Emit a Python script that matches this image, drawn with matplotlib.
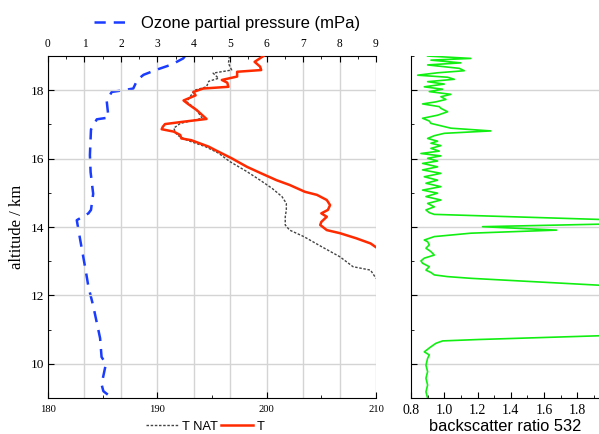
import matplotlib
matplotlib.use('Agg')
import matplotlib.pyplot as plt
from matplotlib.ticker import MultipleLocator

# ozone partial pressure profile (mPa) vs altitude (km)
oz_alt = [19.0, 18.93, 18.75, 18.6, 18.45, 18.3, 18.05, 18.0, 17.95, 17.7, 17.2, 17.15,
          16.85, 16.1, 15.6, 14.97, 14.5, 14.4, 14.2, 13.65, 12.7, 12.25, 11.7, 10.75,
          10.2, 10.0, 9.4, 9.2, 9.05]
oz_val = [3.76, 3.71, 3.39, 2.98, 2.62, 2.45, 2.34, 2.07, 1.75, 1.61, 1.66, 1.34,
          1.18, 1.15, 1.17, 1.24, 1.18, 1.11, 0.79, 0.88, 1.04, 1.11, 1.24, 1.43,
          1.47, 1.59, 1.47, 1.52, 1.70]

# temperature (K)
t_alt = [19.0, 18.83, 18.69, 18.59, 18.54, 18.4, 18.3, 18.22, 18.1, 18.05, 17.95, 17.85,
         17.7, 17.6, 17.42, 17.16, 17.08, 17.01, 16.93, 16.86, 16.79, 16.69, 16.59, 16.54,
         16.35, 16.25, 16.01, 15.76, 15.57, 15.37, 15.23, 15.03, 14.94, 14.79, 14.64, 14.5,
         14.4, 14.3, 14.15, 14.06, 13.91, 13.82, 13.67, 13.52, 13.41]
t_val = [199.7, 198.9, 199.4, 199.5, 197.3, 197.3, 195.9, 196.4, 196.5, 194.2, 193.3, 193.5,
         192.4, 192.8, 193.6, 194.5, 192.4, 190.7, 190.5, 190.4, 191.5, 192.1, 192.2, 193.1,
         194.7, 195.3, 196.8, 198.2, 199.5, 200.9, 202.1, 203.5, 204.6, 205.5, 205.8, 205.6,
         205.0, 205.5, 205.0, 204.9, 205.5, 206.7, 208.2, 209.5, 210.0]

# NAT existence temperature (K)
tnat_alt = [19.0, 18.79, 18.59, 18.5, 18.35, 18.26, 18.1, 18.0, 17.81, 17.66, 17.42, 17.18,
            17.03, 16.89, 16.69, 16.54, 16.35, 16.16, 15.92, 15.62, 15.37, 15.13, 14.89,
            14.69, 14.5, 14.3, 14.06, 13.91, 13.72, 13.43, 13.13, 12.84, 12.74, 12.5]
tnat_val = [196.6, 196.5, 196.8, 195.1, 195.6, 194.7, 194.5, 193.4, 193.0, 192.7, 193.6, 194.1,
            192.1, 191.5, 191.8, 192.7, 194.4, 195.6, 196.6, 198.2, 199.4, 200.5, 201.4,
            201.8, 201.8, 201.7, 201.7, 202.1, 203.4, 205.0, 206.7, 207.9, 209.5, 210.0]

# backscatter ratio at 532 nm
bsr_alt = [19.0, 18.93, 18.88, 18.8, 18.74, 18.64, 18.57, 18.51, 18.44, 18.38, 18.32, 18.25,
           18.18, 18.1, 18.03, 17.96, 17.88, 17.81, 17.73, 17.66, 17.6, 17.52, 17.47, 17.37,
           17.27, 17.18, 17.1, 17.03, 16.96, 16.89, 16.81, 16.74, 16.67, 16.59, 16.51, 16.45,
           16.38, 16.3, 16.22, 16.15, 16.08, 16.01, 15.93, 15.86, 15.76, 15.67, 15.57, 15.47,
           15.37, 15.28, 15.18, 15.08, 14.99, 14.89, 14.79, 14.69, 14.59, 14.5, 14.42, 14.37,
           14.14, 14.01, 13.91, 13.82, 13.72, 13.62, 13.57, 13.48, 13.38, 13.28, 13.18, 13.09,
           13.01, 12.94, 12.84, 12.74, 12.67, 12.6, 12.55, 12.5, 12.15, 10.91, 10.82, 10.71,
           10.67, 10.6, 10.5, 10.35, 10.26, 10.16, 9.96, 9.77, 9.58, 9.38, 9.18, 9.0]
bsr_val = [0.90, 1.16, 0.92, 1.10, 0.90, 1.09, 1.12, 0.96, 0.84, 1.02, 1.06, 0.90,
           1.00, 0.88, 0.99, 0.91, 1.04, 0.98, 1.01, 0.95, 0.87, 0.97, 0.98, 1.02,
           0.96, 0.87, 0.91, 0.92, 0.98, 1.04, 1.28, 1.00, 0.94, 0.90, 0.96, 0.92,
           0.98, 0.92, 0.97, 0.86, 0.98, 0.90, 0.96, 0.87, 0.96, 0.87, 0.98, 0.88,
           0.96, 0.89, 0.98, 0.87, 0.96, 0.89, 0.98, 0.90, 0.94, 0.89, 0.91, 0.94,
           2.48, 1.23, 1.675, 1.16, 0.94, 0.88, 0.90, 0.91, 0.89, 0.92, 0.94, 0.88,
           0.86, 0.87, 0.91, 0.89, 0.92, 0.94, 1.02, 1.16, 2.5, 2.5, 1.93, 1.2,
           0.99, 0.95, 0.92, 0.88, 0.91, 0.90, 0.89, 0.90, 0.89, 0.90, 0.89, 0.90]

serif = 'Liberation Serif'
sans = 'Liberation Sans'
grid_c = '#d4d4d4'

fig = plt.figure(figsize=(5.99, 4.34), dpi=100)

# left panel: temperature (bottom) + ozone (top)
ax = fig.add_axes([0.0801, 0.0829, 0.5476, 0.788])
ax_oz = ax.twiny()
ax.set_zorder(ax_oz.get_zorder() + 1)
ax.patch.set_visible(False)

ax_oz.plot(oz_val, oz_alt, color='#1a3cff', lw=1.8, dashes=(4.5, 3.2),
           label='Ozone partial pressure (mPa)')
ax.plot(tnat_val, tnat_alt, color='#444444', lw=1.0, dashes=(1.8, 1.2), label='T NAT')
ax.plot(t_val, t_alt, color='#ff2a00', lw=1.8, label='T')

ax.set_xlim(180, 210)
ax.set_ylim(9, 19)
ax_oz.set_xlim(0, 9)

ax.xaxis.set_major_locator(MultipleLocator(10))
ax.xaxis.set_minor_locator(MultipleLocator(5))
ax.yaxis.set_major_locator(MultipleLocator(2))
ax.yaxis.set_minor_locator(MultipleLocator(1))
ax_oz.xaxis.set_major_locator(MultipleLocator(1))
ax_oz.xaxis.set_minor_locator(MultipleLocator(0.5))

ax.grid(axis='y', color=grid_c, lw=1.0)
ax_oz.grid(axis='x', color=grid_c, lw=1.0)

for s in ['top', 'right']:
    ax.spines[s].set_visible(False)
for s in ['bottom', 'left', 'right']:
    ax_oz.spines[s].set_visible(False)

ax.tick_params(which='both', direction='in', top=False, right=False)
ax.tick_params(which='major', length=4)
ax.tick_params(which='minor', length=2.5)
ax.tick_params(axis='x', labelsize=7.7, pad=5)
ax.tick_params(axis='y', labelsize=9.6, pad=3)
ax_oz.tick_params(which='both', direction='in')
ax_oz.tick_params(which='major', length=4, labelsize=8.3, pad=4)
ax_oz.tick_params(which='minor', length=2.5)
for lab in ax.get_xticklabels() + ax.get_yticklabels() + ax_oz.get_xticklabels():
    lab.set_fontfamily(serif)

ax.set_ylabel('altitude / km', fontfamily=serif, fontsize=12)
ax.yaxis.set_label_coords(-0.07, 0.5)

ax_oz.legend(loc='center', bbox_to_anchor=(0.379, 0.947), bbox_transform=fig.transFigure,
             frameon=False, prop={'family': sans, 'size': 12}, handlelength=2.0,
             handletextpad=0.8)
ax.legend(loc='center', bbox_to_anchor=(0.343, 0.017), bbox_transform=fig.transFigure,
          frameon=False, ncol=2, prop={'family': sans, 'size': 9.3}, handlelength=2.5,
          handletextpad=0.25, columnspacing=0.25, borderpad=0)

# right panel: backscatter ratio
ax2 = fig.add_axes([0.6861, 0.0829, 0.3139, 0.788])
ax2.plot(bsr_val, bsr_alt, color='#11ee11', lw=1.2)
ax2.set_xlim(0.8, 1.93)
ax2.set_ylim(9, 19)
ax2.xaxis.set_major_locator(MultipleLocator(0.2))
ax2.xaxis.set_minor_locator(MultipleLocator(0.1))
ax2.yaxis.set_major_locator(MultipleLocator(2))
ax2.yaxis.set_minor_locator(MultipleLocator(1))
ax2.grid(axis='y', color=grid_c, lw=1.0)
for s in ['top', 'right']:
    ax2.spines[s].set_visible(False)
ax2.tick_params(which='both', direction='in', labelleft=False)
ax2.tick_params(which='major', length=4)
ax2.tick_params(which='minor', length=2.5)
ax2.tick_params(axis='x', labelsize=10, pad=4)
for lab in ax2.get_xticklabels():
    lab.set_fontfamily(serif)
ax2.set_xlabel('backscatter ratio 532', fontfamily=sans, fontsize=11.8, labelpad=2)

fig.savefig('out.png', dpi=100)
